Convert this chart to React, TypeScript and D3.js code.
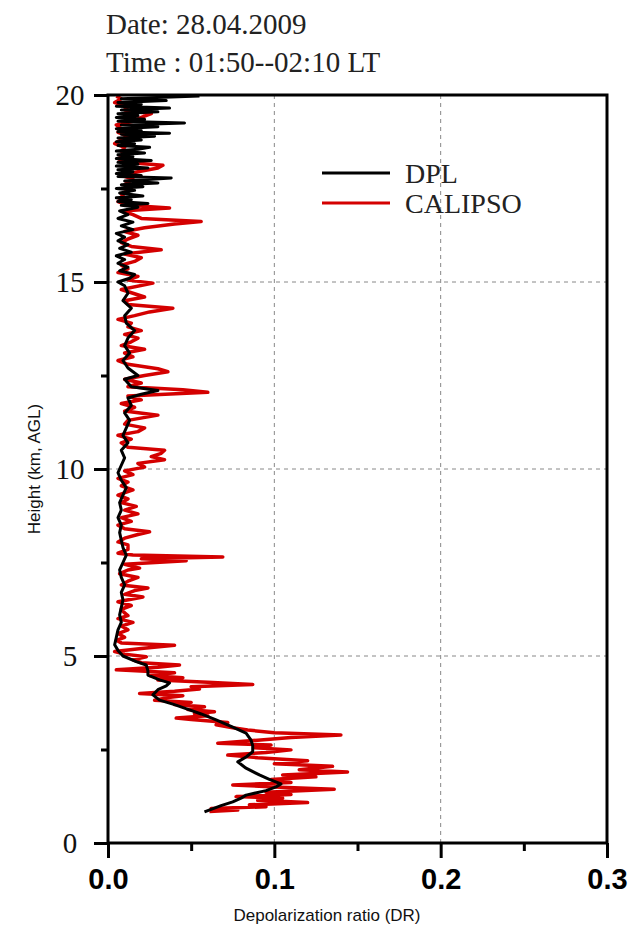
import { useEffect, useRef } from 'react';
import * as d3 from 'd3';

// [height km, depolarization ratio]
const dplProfile: [number, number][] = [
  [0.83, 0.058], [0.9, 0.062], [1.0, 0.068], [1.1, 0.075], [1.2, 0.08], [1.28, 0.083],
  [1.4, 0.095], [1.5, 0.101], [1.58, 0.104], [1.7, 0.097], [1.82, 0.091], [2.0, 0.083],
  [2.17, 0.078], [2.3, 0.083], [2.44, 0.087], [2.6, 0.087], [2.75, 0.086], [2.94, 0.083],
  [3.1, 0.075], [3.29, 0.065], [3.45, 0.056], [3.56, 0.049], [3.7, 0.04], [3.82, 0.031],
  [3.96, 0.027], [4.1, 0.03], [4.2, 0.035], [4.28, 0.037], [4.36, 0.031], [4.49, 0.024],
  [4.6, 0.024], [4.76, 0.023], [4.85, 0.017], [5.0, 0.009], [5.15, 0.006], [5.3, 0.004],
  [5.5, 0.005], [5.7, 0.006], [5.9, 0.008], [6.1, 0.007], [6.3, 0.008], [6.5, 0.009],
  [6.7, 0.008], [6.9, 0.01], [7.1, 0.008], [7.3, 0.007], [7.5, 0.009], [7.7, 0.011],
  [7.9, 0.009], [8.1, 0.008], [8.3, 0.007], [8.5, 0.008], [8.7, 0.006], [8.9, 0.008],
  [9.1, 0.007], [9.3, 0.009], [9.5, 0.011], [9.7, 0.008], [9.9, 0.006], [10.1, 0.008],
  [10.3, 0.01], [10.5, 0.008], [10.7, 0.012], [10.9, 0.009], [11.1, 0.011], [11.3, 0.013],
  [11.5, 0.01], [11.7, 0.014], [11.9, 0.012], [12.0, 0.02], [12.1, 0.03], [12.2, 0.014],
  [12.4, 0.01], [12.5, 0.018], [12.7, 0.012], [12.9, 0.009], [13.1, 0.013], [13.3, 0.01],
  [13.5, 0.012], [13.7, 0.016], [13.9, 0.011], [14.1, 0.01], [14.3, 0.014], [14.5, 0.009],
  [14.7, 0.012], [14.9, 0.01], [15.0, 0.006], [15.1, 0.013], [15.2, 0.016], [15.3, 0.007],
  [15.4, 0.012], [15.5, 0.006], [15.6, 0.01], [15.7, 0.005], [15.8, 0.014], [15.9, 0.007],
  [16.0, 0.012], [16.1, 0.006], [16.2, 0.01], [16.3, 0.005], [16.4, 0.015], [16.5, 0.008],
  [16.6, 0.015], [16.7, 0.006], [16.8, 0.012], [16.9, 0.007], [17.0, 0.018], [17.05, 0.008],
  [17.1, 0.024], [17.15, 0.006], [17.2, 0.014], [17.25, 0.005], [17.3, 0.021], [17.38, 0.007],
  [17.45, 0.016], [17.5, 0.005], [17.55, 0.021], [17.6, 0.008], [17.65, 0.03], [17.7, 0.01],
  [17.78, 0.038], [17.82, 0.006], [17.85, 0.02], [17.9, 0.005], [17.95, 0.015], [18.0, 0.006],
  [18.05, 0.024], [18.1, 0.005], [18.15, 0.018], [18.2, 0.006], [18.25, 0.026], [18.3, 0.005],
  [18.35, 0.015], [18.4, 0.006], [18.45, 0.022], [18.5, 0.005], [18.55, 0.018], [18.6, 0.025],
  [18.65, 0.006], [18.7, 0.016], [18.75, 0.005], [18.8, 0.02], [18.85, 0.006], [18.9, 0.028],
  [18.95, 0.008], [18.98, 0.037], [19.02, 0.006], [19.05, 0.02], [19.1, 0.005], [19.15, 0.03],
  [19.2, 0.008], [19.25, 0.046], [19.3, 0.006], [19.35, 0.022], [19.4, 0.005], [19.45, 0.018],
  [19.5, 0.006], [19.55, 0.03], [19.6, 0.008], [19.65, 0.037], [19.7, 0.005], [19.75, 0.02],
  [19.8, 0.006], [19.85, 0.035], [19.9, 0.008], [19.97, 0.055],
];

const calipsoProfile: [number, number][] = [
  [0.84, 0.061], [0.88, 0.078], [0.92, 0.062], [0.97, 0.095], [1.02, 0.085], [1.08, 0.12],
  [1.14, 0.09], [1.2, 0.105], [1.24, 0.077], [1.3, 0.11], [1.36, 0.095], [1.44, 0.136],
  [1.5, 0.1], [1.55, 0.075], [1.62, 0.11], [1.7, 0.098], [1.77, 0.125], [1.82, 0.105],
  [1.9, 0.144], [1.96, 0.115], [2.05, 0.135], [2.12, 0.1], [2.2, 0.12], [2.28, 0.09],
  [2.35, 0.072], [2.42, 0.095], [2.49, 0.11], [2.55, 0.088], [2.62, 0.098], [2.67, 0.066],
  [2.75, 0.09], [2.82, 0.11], [2.89, 0.14], [2.95, 0.1], [3.02, 0.084], [3.08, 0.075],
  [3.16, 0.065], [3.22, 0.072], [3.3, 0.05], [3.34, 0.041], [3.4, 0.06], [3.46, 0.052],
  [3.51, 0.064], [3.57, 0.048], [3.64, 0.058], [3.7, 0.04], [3.76, 0.05], [3.82, 0.028],
  [3.88, 0.035], [3.94, 0.045], [4.0, 0.019], [4.06, 0.04], [4.12, 0.055], [4.18, 0.05],
  [4.24, 0.087], [4.3, 0.06], [4.36, 0.03], [4.42, 0.045], [4.48, 0.025], [4.55, 0.04],
  [4.63, 0.005], [4.7, 0.03], [4.76, 0.043], [4.82, 0.02], [4.9, 0.015], [4.98, 0.023],
  [5.05, 0.01], [5.12, 0.004], [5.2, 0.02], [5.29, 0.04], [5.35, 0.008], [5.42, 0.005],
  [5.5, 0.01], [5.6, 0.006], [5.7, 0.012], [5.8, 0.008], [5.9, 0.015], [6.0, 0.006],
  [6.08, 0.012], [6.15, 0.01], [6.25, 0.008], [6.35, 0.014], [6.45, 0.006], [6.58, 0.021],
  [6.65, 0.01], [6.75, 0.016], [6.82, 0.024], [6.9, 0.008], [7.0, 0.012], [7.1, 0.018],
  [7.2, 0.007], [7.3, 0.012], [7.35, 0.019], [7.45, 0.01], [7.55, 0.047], [7.6, 0.02],
  [7.65, 0.069], [7.7, 0.015], [7.75, 0.006], [7.85, 0.012], [7.97, 0.012], [8.05, 0.006],
  [8.15, 0.01], [8.25, 0.018], [8.32, 0.025], [8.4, 0.01], [8.5, 0.006], [8.6, 0.014],
  [8.7, 0.008], [8.8, 0.018], [8.9, 0.01], [9.0, 0.017], [9.1, 0.008], [9.2, 0.012],
  [9.3, 0.006], [9.44, 0.015], [9.55, 0.008], [9.65, 0.012], [9.75, 0.006], [9.85, 0.015],
  [9.95, 0.01], [10.05, 0.022], [10.15, 0.018], [10.25, 0.034], [10.33, 0.026], [10.42, 0.032],
  [10.5, 0.034], [10.58, 0.012], [10.7, 0.008], [10.8, 0.014], [10.9, 0.006], [11.0, 0.018],
  [11.1, 0.022], [11.2, 0.01], [11.3, 0.012], [11.44, 0.03], [11.55, 0.01], [11.65, 0.016],
  [11.75, 0.008], [11.85, 0.02], [11.95, 0.012], [12.05, 0.06], [12.12, 0.045], [12.2, 0.012],
  [12.3, 0.02], [12.4, 0.01], [12.5, 0.022], [12.6, 0.036], [12.68, 0.03], [12.8, 0.012],
  [12.9, 0.006], [13.0, 0.015], [13.1, 0.01], [13.2, 0.022], [13.3, 0.008], [13.4, 0.014],
  [13.5, 0.018], [13.6, 0.01], [13.7, 0.02], [13.8, 0.012], [13.9, 0.014], [14.0, 0.006],
  [14.1, 0.016], [14.2, 0.025], [14.3, 0.039], [14.4, 0.012], [14.5, 0.01], [14.6, 0.022],
  [14.7, 0.015], [14.8, 0.008], [14.97, 0.027], [15.05, 0.012], [15.15, 0.018], [15.25, 0.006],
  [15.35, 0.012], [15.45, 0.008], [15.55, 0.016], [15.65, 0.02], [15.75, 0.01], [15.86, 0.032],
  [15.95, 0.014], [16.05, 0.008], [16.15, 0.012], [16.25, 0.018], [16.35, 0.01], [16.45, 0.022],
  [16.55, 0.04], [16.62, 0.056], [16.7, 0.02], [16.8, 0.015], [16.9, 0.008], [16.98, 0.037],
  [17.05, 0.012], [17.15, 0.006], [17.25, 0.01], [17.35, 0.008], [17.5, 0.014], [17.6, 0.01],
  [17.75, 0.015], [17.85, 0.008], [17.95, 0.018], [18.05, 0.03], [18.12, 0.033], [18.2, 0.01],
  [18.3, 0.006], [18.4, 0.012], [18.5, 0.008], [18.6, 0.01], [18.7, 0.004], [18.8, 0.008],
  [18.9, 0.012], [19.0, 0.006], [19.1, 0.008], [19.2, 0.005], [19.3, 0.015], [19.4, 0.02],
  [19.5, 0.026], [19.6, 0.01], [19.7, 0.012], [19.8, 0.004], [19.9, 0.008], [19.97, 0.005],
];

const xTicks = [0, 0.1, 0.2, 0.3];
const xMinorTicks = [0.05, 0.15, 0.25];
const yTicks = [0, 5, 10, 15, 20];
const yMinorTicks = [2.5, 7.5, 12.5, 17.5];
const headerLines = ['Date: 28.04.2009', 'Time : 01:50--02:10 LT'];
const legendItems = [
  { name: 'DPL', color: '#000000' },
  { name: 'CALIPSO', color: '#d40000' },
];

const App = () => {
  const svgRef = useRef<SVGSVGElement>(null);

  useEffect(() => {
    const width = 631;
    const height = 931;
    const left = 108, right = 607, top = 95, bottom = 843;
    const serif = '"Liberation Serif", "Times New Roman", serif';
    const sans = '"Liberation Sans", Arial, sans-serif';

    const svg = d3.select(svgRef.current)
      .attr('width', width)
      .attr('height', height);
    svg.selectAll('*').remove();

    const x = d3.scaleLinear().domain([0, 0.3]).range([left, right]);
    const y = d3.scaleLinear().domain([0, 20]).range([bottom, top]);

    // header
    headerLines.forEach((t, i) => {
      svg.append('text')
        .attr('x', 106)
        .attr('y', 34 + i * 38)
        .attr('font-family', serif)
        .attr('font-size', 29)
        .attr('fill', '#222')
        .text(t);
    });

    // grid
    const grid = svg.append('g')
      .attr('stroke', '#888')
      .attr('stroke-width', 1)
      .attr('stroke-dasharray', '4,4');
    [0.1, 0.2].forEach(v => {
      grid.append('line')
        .attr('x1', x(v)).attr('x2', x(v))
        .attr('y1', y(0)).attr('y2', y(20));
    });
    [5, 10, 15].forEach(v => {
      grid.append('line')
        .attr('x1', x(0)).attr('x2', x(0.3))
        .attr('y1', y(v)).attr('y2', y(v));
    });

    // profiles
    const line = d3.line<[number, number]>()
      .x(d => x(d[1]))
      .y(d => y(d[0]));

    svg.append('path')
      .datum(calipsoProfile)
      .attr('d', line)
      .attr('fill', 'none')
      .attr('stroke', '#d40000')
      .attr('stroke-width', 3.5)
      .attr('stroke-linejoin', 'round');

    svg.append('path')
      .datum(dplProfile)
      .attr('d', line)
      .attr('fill', 'none')
      .attr('stroke', '#000')
      .attr('stroke-width', 3)
      .attr('stroke-linejoin', 'round');

    // frame
    svg.append('rect')
      .attr('x', left).attr('y', top)
      .attr('width', right - left).attr('height', bottom - top)
      .attr('fill', 'none')
      .attr('stroke', '#000')
      .attr('stroke-width', 3);

    // x axis
    const xAxis = d3.axisBottom(x)
      .tickValues(xTicks)
      .tickSize(15)
      .tickFormat(d3.format('.1f'));
    const gx = svg.append('g')
      .attr('transform', `translate(0, ${bottom})`)
      .call(xAxis);
    gx.select('.domain').remove();
    gx.selectAll('line').attr('stroke-width', 3);
    gx.selectAll('text')
      .attr('font-family', sans)
      .attr('font-weight', 'bold')
      .attr('font-size', 29)
      .attr('fill', '#000')
      .attr('y', 20)
      .attr('dy', '0.9em');

    const gxm = svg.append('g')
      .attr('transform', `translate(0, ${bottom})`)
      .call(d3.axisBottom(x).tickValues(xMinorTicks).tickSize(8).tickFormat(() => ''));
    gxm.select('.domain').remove();
    gxm.selectAll('line').attr('stroke-width', 3);

    // y axis
    const yAxis = d3.axisLeft(y)
      .tickValues(yTicks)
      .tickSize(14)
      .tickFormat(d3.format('d'));
    const gy = svg.append('g')
      .attr('transform', `translate(${left}, 0)`)
      .call(yAxis);
    gy.select('.domain').remove();
    gy.selectAll('line').attr('stroke-width', 3);
    gy.selectAll('text')
      .attr('font-family', serif)
      .attr('font-size', 29)
      .attr('fill', '#111')
      .attr('text-anchor', 'middle')
      .attr('x', -38);

    const gym = svg.append('g')
      .attr('transform', `translate(${left}, 0)`)
      .call(d3.axisLeft(y).tickValues(yMinorTicks).tickSize(7).tickFormat(() => ''));
    gym.select('.domain').remove();
    gym.selectAll('line').attr('stroke-width', 3);

    // axis titles
    svg.append('text')
      .attr('x', 327)
      .attr('y', 921)
      .attr('text-anchor', 'middle')
      .attr('font-family', sans)
      .attr('font-size', 17)
      .attr('fill', '#111')
      .text('Depolarization ratio (DR)');

    svg.append('text')
      .attr('transform', `translate(40, ${(top + bottom) / 2}) rotate(-90)`)
      .attr('text-anchor', 'middle')
      .attr('font-family', sans)
      .attr('font-size', 17)
      .attr('fill', '#111')
      .text('Height (km, AGL)');

    // legend
    const legend = svg.append('g');
    legendItems.forEach((item, i) => {
      const ly = 173 + i * 30;
      legend.append('line')
        .attr('x1', 322).attr('x2', 390)
        .attr('y1', ly).attr('y2', ly)
        .attr('stroke', item.color)
        .attr('stroke-width', 3);
      legend.append('text')
        .attr('x', 405)
        .attr('y', ly + 10)
        .attr('font-family', serif)
        .attr('font-size', 28)
        .attr('fill', '#222')
        .text(item.name);
    });
  }, []);

  return <svg ref={svgRef} style={{ position: 'absolute', left: 0, top: 0 }}></svg>;
};

export default App;
